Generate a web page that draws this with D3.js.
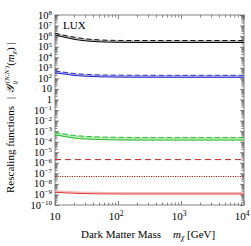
<!DOCTYPE html>
<html>
<head>
<meta charset="utf-8">
<script src="https://cdn.jsdelivr.net/npm/d3@7"></script>
<style>
  body { margin: 0; background: #fff; }
  text { font-family: "Liberation Serif", "DejaVu Serif", serif; fill: #000; }
</style>
</head>
<body>
<script>
// dark matter masses (GeV)
const masses = [10, 15, 20, 30, 50, 100, 200, 500, 1000, 2000, 5000, 10000];

// rescaling function curves
const blackSolid  = [1.3e6, 7.2e5, 5.0e5, 3.6e5, 2.9e5, 2.6e5, 2.5e5, 2.5e5, 2.5e5, 2.5e5, 2.5e5, 2.5e5];
const blackDashed = [1.9e6, 1.1e6, 8.0e5, 5.6e5, 4.4e5, 3.9e5, 3.8e5, 3.8e5, 3.8e5, 3.8e5, 3.8e5, 3.8e5];
const blueSolid   = [330, 240, 190, 160, 140, 130, 127, 126, 125, 125, 125, 125];
const blueDashed  = [500, 360, 290, 240, 210, 200, 195, 193, 192, 192, 192, 192];
const greenSolid  = [4.5e-4, 2.9e-4, 2.2e-4, 1.8e-4, 1.6e-4, 1.45e-4, 1.4e-4, 1.4e-4, 1.4e-4, 1.4e-4, 1.4e-4, 1.4e-4];
const greenDashed = [7.5e-4, 5.0e-4, 3.9e-4, 3.2e-4, 2.8e-4, 2.6e-4, 2.5e-4, 2.5e-4, 2.5e-4, 2.5e-4, 2.5e-4, 2.5e-4];
const redDashed   = [2.0e-6, 2.0e-6, 2.0e-6, 2.0e-6, 2.0e-6, 2.0e-6, 2.0e-6, 2.0e-6, 2.0e-6, 2.0e-6, 2.0e-6, 2.0e-6];
const redDotted   = [5.0e-8, 5.0e-8, 5.0e-8, 5.0e-8, 5.0e-8, 5.0e-8, 5.0e-8, 5.0e-8, 5.0e-8, 5.0e-8, 5.0e-8, 5.0e-8];
const redSolid    = [1.6e-9, 1.4e-9, 1.3e-9, 1.2e-9, 1.15e-9, 1.1e-9, 1.1e-9, 1.1e-9, 1.1e-9, 1.1e-9, 1.1e-9, 1.1e-9];

// tick values
const xMajor = [10, 100, 1000, 10000];
const xLabels = ["10", "10^2", "10^3", "10^4"];
const yExponents = d3.range(-10, 9);

function initializeChart() {
  const W = 251, H = 246;
  const plot = {left: 55, right: 244, top: 15, bottom: 205};

  const svg = d3.select("body").append("svg")
    .attr("width", W)
    .attr("height", H);

  const x = d3.scaleLog().domain([10, 1e4]).range([plot.left, plot.right]);
  const y = d3.scaleLog().domain([1e-10, 1e8]).range([plot.bottom, plot.top]);

  // minor tick positions
  const xMinor = [];
  for (let d = 10; d < 1e4; d *= 10)
    for (let k = 2; k <= 9; k++) xMinor.push(d * k);
  const yMajor = yExponents.map(e => Math.pow(10, e));
  const yMinor = [];
  for (let e = -10; e < 8; e++)
    for (let k = 2; k <= 9; k++) yMinor.push(k * Math.pow(10, e));

  const frame = "#666";

  function drawAxis(axis, tx, ty) {
    const g = svg.append("g")
      .attr("transform", "translate(" + tx + "," + ty + ")")
      .call(axis);
    g.selectAll("path").remove();
    g.selectAll("line").attr("stroke", frame).attr("stroke-width", 0.8);
    g.selectAll("text").remove();
  }

  // ticks on all four sides, pointing inward
  drawAxis(d3.axisBottom(x).tickValues(xMajor).tickSize(-4), 0, plot.bottom);
  drawAxis(d3.axisBottom(x).tickValues(xMinor).tickSize(-2.5), 0, plot.bottom);
  drawAxis(d3.axisTop(x).tickValues(xMajor).tickSize(-4), 0, plot.top);
  drawAxis(d3.axisTop(x).tickValues(xMinor).tickSize(-2.5), 0, plot.top);
  drawAxis(d3.axisLeft(y).tickValues(yMajor).tickSize(-4), plot.left, 0);
  drawAxis(d3.axisLeft(y).tickValues(yMinor).tickSize(-2.5), plot.left, 0);
  drawAxis(d3.axisRight(y).tickValues(yMajor).tickSize(-4), plot.right, 0);
  drawAxis(d3.axisRight(y).tickValues(yMinor).tickSize(-2.5), plot.right, 0);

  svg.append("rect")
    .attr("x", plot.left).attr("y", plot.top)
    .attr("width", plot.right - plot.left).attr("height", plot.bottom - plot.top)
    .attr("fill", "none").attr("stroke", frame).attr("stroke-width", 0.8);

  // x tick labels
  svg.selectAll(".xlab").data(xMajor).enter().append("text")
    .attr("class", "xlab")
    .attr("x", d => x(d) + (d === 10 ? 0 : -2))
    .attr("y", 220)
    .attr("text-anchor", "middle")
    .style("font-size", "11px")
    .each(function(d, i) {
      const parts = xLabels[i].split("^");
      const t = d3.select(this);
      t.append("tspan").text(parts[0]);
      if (parts[1]) t.append("tspan").attr("dy", -4).style("font-size", "7.5px").text(parts[1]);
    });

  // y tick labels
  svg.selectAll(".ylab").data(yExponents).enter().append("text")
    .attr("class", "ylab")
    .attr("x", 52)
    .attr("y", e => y(Math.pow(10, e)) + 3.5)
    .attr("text-anchor", "end")
    .style("font-size", "10.5px")
    .each(function(e) {
      const t = d3.select(this);
      if (e === 0) { t.text("1"); return; }
      if (e === 1) { t.text("10"); return; }
      t.append("tspan").text("10");
      t.append("tspan").attr("dy", -3.5).style("font-size", "7px").text(e < 0 ? "\u2212" + (-e) : String(e));
    });

  // curves
  const line = d3.line().x((d, i) => x(masses[i])).y(d => y(d)).curve(d3.curveMonotoneX);
  const area = d3.area().x(d => x(d.m)).y0(d => y(d.lo)).y1(d => y(d.hi)).curve(d3.curveMonotoneX);

  const groups = [
    {lo: blackSolid, hi: blackDashed, color: "#000", band: "#bbb", dot: "#555"},
    {lo: blueSolid, hi: blueDashed, color: "#2222cc", band: "#b4b4f0", dot: "#6666dd"},
    {lo: greenSolid, hi: greenDashed, color: "#22bb22", band: "#b0e8b0", dot: "#55cc55"}
  ];

  groups.forEach(g => {
    const rows = masses.map((m, i) => ({m: m, lo: g.lo[i], hi: g.hi[i]}));
    svg.append("path").datum(rows).attr("d", area).attr("fill", g.band).attr("opacity", 0.8);
    svg.append("path").datum(g.lo).attr("d", line)
      .attr("fill", "none").attr("stroke", g.color).attr("stroke-width", 1);
    svg.append("path").datum(g.hi).attr("d", line)
      .attr("fill", "none").attr("stroke", g.color).attr("stroke-width", 1)
      .attr("stroke-dasharray", "5,3");
    svg.append("path").datum(g.hi.map(v => v * 0.9)).attr("d", line)
      .attr("fill", "none").attr("stroke", g.dot).attr("stroke-width", 0.8)
      .attr("stroke-dasharray", "1,1.5");
  });

  svg.append("path").datum(redDashed).attr("d", line)
    .attr("fill", "none").attr("stroke", "#cc2222").attr("stroke-width", 1)
    .attr("stroke-dasharray", "6,4");
  svg.append("path").datum(redDotted).attr("d", line)
    .attr("fill", "none").attr("stroke", "#992222").attr("stroke-width", 1)
    .attr("stroke-dasharray", "1.2,1.2");
  svg.append("path").datum(redSolid.map(v => v * 1.3)).attr("d", line)
    .attr("fill", "none").attr("stroke", "#f2b8b8").attr("stroke-width", 1.5);
  svg.append("path").datum(redSolid).attr("d", line)
    .attr("fill", "none").attr("stroke", "#dd3333").attr("stroke-width", 1);

  // LUX label
  svg.append("text").attr("x", 63).attr("y", 28.5)
    .style("font-size", "11px").text("LUX");

  // x axis title
  const xt = svg.append("text").attr("x", 81).attr("y", 238).style("font-size", "11px");
  xt.append("tspan").text("Dark Matter Mass");
  xt.append("tspan").attr("dx", 12).style("font-style", "italic").text("m");
  xt.append("tspan").attr("dy", 2).style("font-size", "7.5px").style("font-style", "italic").text("\u03c7");
  xt.append("tspan").attr("dy", -2).text(" [GeV]");

  // y axis title
  const yt = svg.append("text")
    .attr("transform", "translate(14,193) rotate(-90)")
    .style("font-size", "11px");
  yt.append("tspan").text("Rescaling functions");
  yt.append("tspan").attr("dx", 7).text("|");
  yt.append("tspan").attr("dx", 3).style("font-style", "italic").text("\ud835\udcb4");
  yt.append("tspan").attr("dy", 3).style("font-size", "7px").style("font-style", "italic").text("ij");
  yt.append("tspan").attr("dx", -5).attr("dy", -8).style("font-size", "7px").style("font-style", "italic").text("r(N,N\u2032)");
  yt.append("tspan").attr("dy", 5).text("(");
  yt.append("tspan").style("font-style", "italic").text("m");
  yt.append("tspan").attr("dy", 2).style("font-size", "7px").style("font-style", "italic").text("\u03c7");
  yt.append("tspan").attr("dy", -2).text(")");
  yt.append("tspan").attr("dx", 3).text("|");
}

window.onload = initializeChart;
</script>
</body>
</html>
